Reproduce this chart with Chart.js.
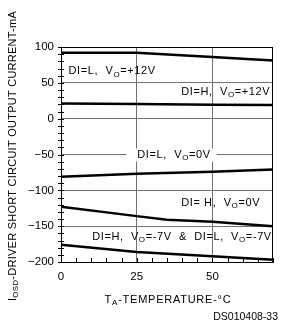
<!DOCTYPE html>
<html>
<head>
<meta charset="utf-8">
<script src="https://cdn.jsdelivr.net/npm/chart.js@4.4.1/dist/chart.umd.min.js"></script>
<style>
  html, body { margin: 0; padding: 0; background: #fff; }
  #wrap { width: 281px; height: 324px; position: relative; }
</style>
</head>
<body>
<div id="wrap"><canvas id="chart" width="281" height="324"></canvas></div>
<script>
// temperatures (°C) the curves were read at
const tempsA = [0, 25, 50, 70];
const tempsB = [0, 25, 35, 50, 70];

// driver short circuit output current, mA
const iDiL12 = [92, 92, 86, 81];            // DI=L, VO=+12V
const iDiH12 = [21, 20.5, 19.5, 19];        // DI=H, VO=+12V
const iDiL0 = [-81, -77, -74, -71];         // DI=L, VO=0V
const iDiH0 = [-123, -136, -141, -144, -150]; // DI=H, VO=0V
const iNeg7 = [-176, -186, -192, -197];     // VO=-7V (both)

const xLabelTicks = [0, 25, 50];
const yLabelTicks = [100, 50, 0, -50, -100, -150, -200];

// curve captions: [text, isSubscript] parts, anchored at data coords
const captions = [
  { parts: [['DI=L,  V'], ['O', 1], ['=+12V']], x: 2.5, y: 66 },
  { parts: [['DI=H,  V'], ['O', 1], ['=+12V']], x: 39.7, y: 37 },
  { parts: [['DI=L,  V'], ['O', 1], ['=0V']], x: 25.2, y: -50, box: true },
  { parts: [['DI= H,  V'], ['O', 1], ['=0V']], x: 39.7, y: -118 },
  { parts: [['DI=H,  V'], ['O', 1], ['=-7V  &  DI=L,  V'], ['O', 1], ['=-7V']], x: 10.3, y: -165 },
];

const FONT = '"Liberation Sans", Arial, sans-serif';
const minus = v => (v < 0 ? '\u2212' + Math.abs(v) : String(v));

function pts(xs, ys) {
  return xs.map((t, i) => ({ x: t, y: ys[i] }));
}

function curve(data) {
  return {
    data,
    borderColor: '#000',
    borderWidth: 2.5,
    pointRadius: 0,
    tension: 0,
    fill: false,
  };
}

function drawRich(ctx, parts, x, y, size) {
  let cx = x;
  for (const [t, sub] of parts) {
    ctx.font = (sub ? size - 3 : size) + 'px ' + FONT;
    ctx.fillText(t, cx, sub ? y + 3 : y);
    cx += ctx.measureText(t).width;
  }
  return cx - x;
}

function richWidth(ctx, parts, size) {
  let w = 0;
  for (const [t, sub] of parts) {
    ctx.font = (sub ? size - 3 : size) + 'px ' + FONT;
    w += ctx.measureText(t).width;
  }
  return w;
}

const decor = {
  id: 'decor',
  afterDatasetsDraw(chart) {
    const { ctx, chartArea: a, scales } = chart;
    const xs = scales.x, ys = scales.y;
    ctx.save();

    // frame
    ctx.strokeStyle = '#000';
    ctx.lineWidth = 1;
    ctx.strokeRect(a.left + 0.5, a.top + 0.5, a.right - a.left - 1, a.bottom - a.top);

    // tick marks
    ctx.beginPath();
    xs.ticks.forEach(t => {
      const px = Math.round(xs.getPixelForValue(t.value)) + 0.5;
      ctx.moveTo(px, a.bottom);
      ctx.lineTo(px, a.bottom - 4);
    });
    ys.ticks.forEach(t => {
      const py = Math.round(ys.getPixelForValue(t.value)) + 0.5;
      ctx.moveTo(a.left - 3, py);
      ctx.lineTo(a.left + 3, py);
    });
    ctx.stroke();

    // captions
    ctx.fillStyle = '#000';
    ctx.textBaseline = 'middle';
    ctx.textAlign = 'left';
    ctx.letterSpacing = '0.6px';
    captions.forEach(c => {
      const px = xs.getPixelForValue(c.x);
      const py = ys.getPixelForValue(c.y);
      if (c.box) {
        const w = richWidth(ctx, c.parts, 11);
        ctx.fillStyle = '#fff';
        ctx.fillRect(px - 11, py - 6, w + 17, 13);
        ctx.fillStyle = '#000';
      }
      drawRich(ctx, c.parts, px, py, 11);
    });

    // y axis title (rotated)
    ctx.letterSpacing = '0.25px';
    const yParts = [['I'], ['OSD', 1], ['-DRIVER SHORT CIRCUIT OUTPUT CURRENT-mA']];
    const yw = richWidth(ctx, yParts, 11);
    ctx.translate(13, 156);
    ctx.rotate(-Math.PI / 2);
    drawRich(ctx, yParts, -yw / 2, 0, 11);
    ctx.setTransform(1, 0, 0, 1, 0, 0);

    // x axis title
    ctx.letterSpacing = '0.75px';
    const xParts = [['T'], ['A', 1], ['-TEMPERATURE-\u00B0C']];
    const xw = richWidth(ctx, xParts, 11);
    drawRich(ctx, xParts, (a.left + a.right) / 2 - xw / 2 + 1, 300, 11);

    // figure id
    ctx.letterSpacing = '0px';
    ctx.font = '10.5px ' + FONT;
    ctx.textAlign = 'right';
    ctx.fillText('DS010408-33', 278, 317);
    ctx.restore();
  },
};

new Chart(document.getElementById('chart'), {
  type: 'line',
  data: {
    datasets: [
      curve(pts(tempsA, iDiL12)),
      curve(pts(tempsA, iDiH12)),
      curve(pts(tempsA, iDiL0)),
      curve(pts(tempsB, iDiH0)),
      curve(pts(tempsA, iNeg7)),
    ],
  },
  options: {
    responsive: false,
    animation: false,
    layout: { padding: { top: 47, right: 3, left: 0, bottom: 0 } },
    plugins: { legend: { display: false }, tooltip: { enabled: false } },
    scales: {
      x: {
        type: 'linear',
        min: 0,
        max: 70,
        afterFit: s => { s.height = 62; },
        border: { display: true, color: '#000', width: 1 },
        grid: {
          drawTicks: false,
          color: c => (c.tick && (c.tick.value === 25 || c.tick.value === 50) ? '#707070' : 'transparent'),
          lineWidth: 1,
        },
        ticks: {
          stepSize: 5,
          autoSkip: false,
          maxRotation: 0,
          padding: 8,
          color: '#000',
          font: { family: FONT, size: 11.5 },
          callback: v => (xLabelTicks.includes(v) ? String(v) : ''),
        },
      },
      y: {
        min: -200,
        max: 100,
        afterFit: s => { s.width = 61; },
        border: { display: true, color: '#000', width: 1 },
        grid: {
          drawTicks: false,
          color: c => (c.tick && c.tick.value % 50 === 0 && c.tick.value > -200 && c.tick.value < 100 ? '#707070' : 'transparent'),
          lineWidth: 1,
        },
        ticks: {
          stepSize: 10,
          autoSkip: false,
          padding: 7,
          color: '#000',
          font: { family: FONT, size: 11.5 },
          callback: v => (yLabelTicks.includes(v) ? minus(v) : ''),
        },
      },
    },
  },
  plugins: [decor],
});
</script>
</body>
</html>
